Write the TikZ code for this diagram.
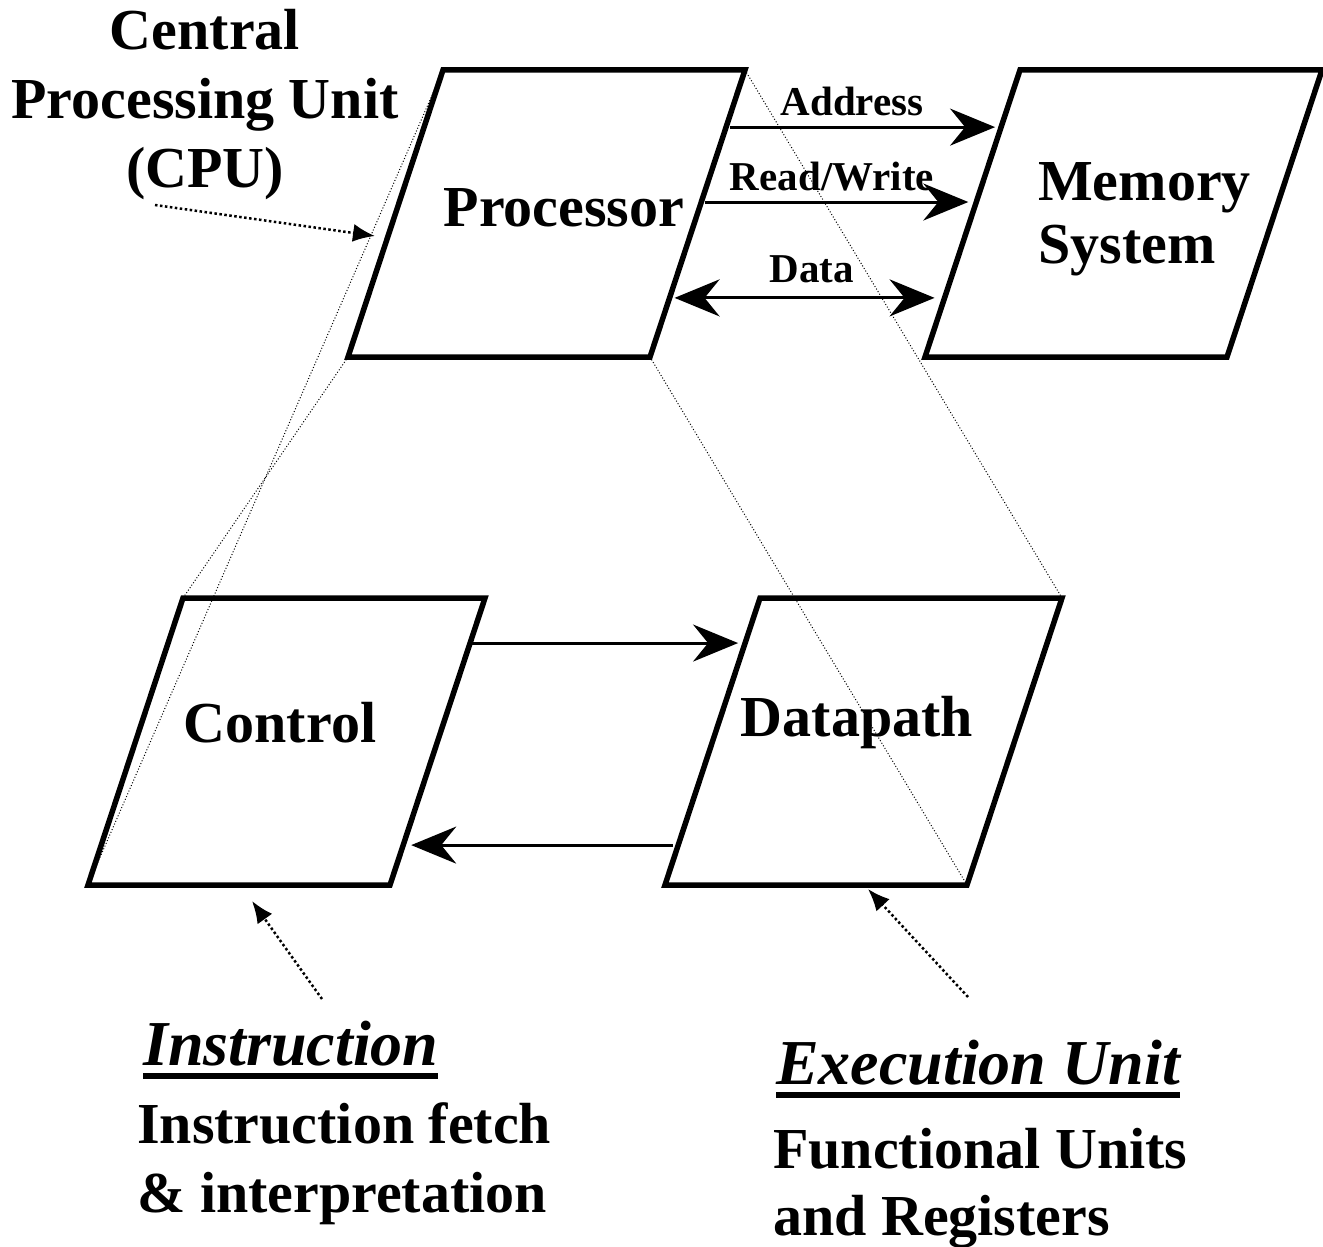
\documentclass[tikz,border=0pt]{standalone}
\usepackage{fontspec}
\setmainfont{Liberation Serif}
\usetikzlibrary{arrows.meta,calc}
\newcommand\ulbox[1]{\setbox0\hbox{#1}\rlap{\rule[-14pt]{\wd0}{6.5pt}}\box0}

\begin{document}
\begin{tikzpicture}[x=1pt,y=-1pt,
    bigtip/.tip={Stealth[length=45pt,width=37pt,inset=15pt]},
    box/.style={line width=5.5pt},
    bus/.style={line width=3pt},
    ghost/.style={line width=1pt,dash pattern=on 1pt off 2pt},
    hint/.style={line width=2.5pt,dash pattern=on 2.5pt off 2.5pt,
      -{Latex[length=22pt,width=18pt]}},
    big/.style={font=\fontsize{58}{69}\selectfont\bfseries,inner sep=0pt},
    small/.style={font=\fontsize{41}{48}\selectfont\bfseries,inner sep=0pt},
    head/.style={font=\fontsize{64}{72}\selectfont\bfseries\itshape,inner sep=0pt}]
    \path[use as bounding box] (0,0) rectangle (1323,1247);

    % Four slanted blocks, all the same size.
    \foreach \name/\x/\y in {proc/348/357,mem/925/357,ctrl/88/885,dp/665/885} {
      \draw[box] (\x,\y) coordinate (\name-bl) -- ++(302,0) coordinate (\name-br)
        -- ++(95,-287) coordinate (\name-tr) -- ++(-302,0) coordinate (\name-tl)
        -- cycle;
    }

    % Zoom lines from the processor down to its two parts.
    \draw[ghost] (proc-tl) -- (ctrl-bl);
    \draw[ghost] (proc-bl) -- (ctrl-tl);
    \draw[ghost] (proc-tr) -- (dp-tr);
    \draw[ghost] (proc-br) -- (dp-br);

    % Points on the slanted sides where the buses meet them.
    \path ($(proc-br)!0.801!(proc-tr)$) coordinate (p-addr)
          ($(mem-bl)!0.801!(mem-tl)$) coordinate (m-addr)
          ($(proc-br)!0.540!(proc-tr)$) coordinate (p-rw)
          ($(mem-bl)!0.540!(mem-tl)$) coordinate (m-rw)
          ($(proc-br)!0.206!(proc-tr)$) coordinate (p-data)
          ($(mem-bl)!0.206!(mem-tl)$) coordinate (m-data)
          ($(ctrl-br)!0.843!(ctrl-tr)$) coordinate (c-up)
          ($(dp-bl)!0.843!(dp-tl)$) coordinate (d-up)
          ($(ctrl-br)!0.139!(ctrl-tr)$) coordinate (c-down)
          ($(dp-bl)!0.139!(dp-tl)$) coordinate (d-down);

    \draw[bus,-bigtip,shorten <=4pt,shorten >=6pt] (p-addr) -- (m-addr);
    \draw[bus,-bigtip,shorten <=4pt,shorten >=8pt] (p-rw) -- (m-rw);
    \draw[bus,bigtip-bigtip,shorten <=5pt,shorten >=10pt] (p-data) -- (m-data);
    \draw[bus,-bigtip,shorten <=2pt,shorten >=7pt] (c-up) -- (d-up);
    \draw[bus,-bigtip,shorten <=5pt,shorten >=8pt] (d-down) -- (c-down);

    \node[small,anchor=base] (addr) at (852,115) {Address};
    \node[small,anchor=base] (rw) at (832,190) {Read/Write};
    \node[small,anchor=base] (data) at (812,282) {Data};

    \node[big,anchor=base] (procname) at (564,226) {Processor};
    \node[big,anchor=base west,align=left,
      font=\fontsize{58}{63}\selectfont\bfseries] (memname) at (1038,263)
      {Memory\\System};
    \node[big,anchor=base] (ctrlname) at (280,742) {Control};
    \node[big,anchor=base] (dpname) at (857,736) {Datapath};

    \node[big,align=center,anchor=base] (cpu) at (205,187)
      {Central\\Processing Unit\\(CPU)};
    \coordinate (cpu-tail) at (155,205);
    \coordinate (cpu-head) at (375,236);
    \draw[hint] (cpu-tail) -- (cpu-head);

    % Captions under the two parts.
    \node[head,anchor=base west] (instr) at (143,1065) {\ulbox{Instruction}};
    \node[big,anchor=base west,align=left] (instrtext) at (137,1212)
      {Instruction fetch\\\& interpretation};
    \node[head,anchor=base west] (exec) at (776,1084) {\ulbox{Execution Unit}};
    \node[big,anchor=base west,align=left,
      font=\fontsize{58}{67}\selectfont\bfseries] (exectext) at (773,1235)
      {Functional Units\\and Registers};

    \coordinate (instr-tail) at (322,999);
    \coordinate (instr-head) at (252,901);
    \coordinate (exec-tail) at (968,997);
    \coordinate (exec-head) at (868,889);
    \draw[hint] (instr-tail) -- (instr-head);
    \draw[hint] (exec-tail) -- (exec-head);
  \end{tikzpicture}
\end{document}
